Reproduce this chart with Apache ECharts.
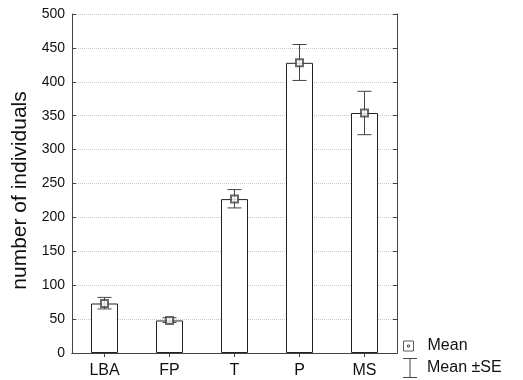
<!DOCTYPE html>
<html>
<head>
<meta charset="utf-8">
<script src="https://cdn.jsdelivr.net/npm/echarts@6/dist/echarts.min.js"></script>
<style>
  html, body { margin: 0; padding: 0; background: #fff; }
  #chart { width: 523px; height: 380px; }
</style>
</head>
<body>
<div id="chart"></div>
<script>
var categories = ['LBA', 'FP', 'T', 'P', 'MS'];
var means = [73, 48, 227, 428, 354];
var seHigh = [82, 52, 241, 455, 386];
var seLow = [65, 45, 214, 402, 322];
var yTicks = { min: 0, max: 500, step: 50 };

var font = "'Liberation Sans', Arial, sans-serif";
var ink = '#222';

var chart = echarts.init(document.getElementById('chart'));

// error bar rows: [category index, upper, lower]
var errData = [];
for (var i = 0; i < categories.length; i++) {
	errData.push([i, seHigh[i], seLow[i]]);
}

var valueAxis = function(right) {
	return {
		type: 'value',
		position: right ? 'right' : 'left',
		min: yTicks.min,
		max: yTicks.max,
		interval: yTicks.step,
		name: right ? '' : 'number of individuals',
		nameLocation: 'middle',
		nameGap: 28,
		nameTextStyle: { fontFamily: font, fontSize: 21, color: '#111', padding: [0, 14, 0, 0] },
		axisLine: { show: true, lineStyle: { color: '#444', width: 1 } },
		axisTick: { show: true, inside: true, length: 4, lineStyle: { color: '#444' } },
		axisLabel: { show: !right, fontFamily: font, fontSize: 14, color: '#111', margin: 7 },
		splitLine: { show: !right, lineStyle: { type: 'dotted', color: '#c8c8c8', width: 1 } }
	};
};

var catAxis = function(top) {
	return {
		type: 'category',
		position: top ? 'top' : 'bottom',
		data: categories,
		boundaryGap: true,
		axisLine: { show: true, lineStyle: { color: '#444', width: 1 } },
		axisTick: { show: true, inside: true, alignWithLabel: true, length: 4, lineStyle: { color: '#444' } },
		axisLabel: { show: !top, fontFamily: font, fontSize: 16, color: '#111', margin: 10 },
		splitLine: { show: false }
	};
};

var option = {
	animation: false,
	grid: { left: 72, right: 126, top: 14, bottom: 27, containLabel: false },
	xAxis: [catAxis(false), catAxis(true)],
	yAxis: [valueAxis(false), valueAxis(true)],
	legend: [{
		data: ['Mean'],
		left: 403,
		top: 338,
		padding: 0,
		itemWidth: 10,
		itemHeight: 10,
		itemGap: 0,
		icon: 'path://M0,0H10V10H0Z M4,4H6V6H4Z',
		itemStyle: { color: '#fff', borderColor: '#333', borderWidth: 1 },
		textStyle: { fontFamily: font, fontSize: 16, color: '#111', padding: [0, 0, 0, 9] }
	}, {
		data: ['Mean ±SE'],
		left: 403,
		top: 358,
		padding: 0,
		itemWidth: 14,
		itemHeight: 20,
		icon: 'path://M0,0H14V1H7.5V19H14V20H0V19H6.5V1H0Z',
		itemStyle: { color: '#444', borderWidth: 0 },
		textStyle: { fontFamily: font, fontSize: 16, color: '#111', padding: [0, 0, 0, 5] }
	}],
	series: [{
		name: 'bars',
		type: 'bar',
		data: means,
		barWidth: 27,
		itemStyle: { color: '#fff', borderColor: ink, borderWidth: 1 },
		z: 2
	}, {
		name: 'Mean ±SE',
		type: 'custom',
		data: errData,
		encode: { x: 0, y: [1, 2] },
		itemStyle: { color: '#444' },
		renderItem: function(params, api) {
			var hi = api.coord([api.value(0), api.value(1)]);
			var lo = api.coord([api.value(0), api.value(2)]);
			var half = 7;
			var st = { stroke: '#444', lineWidth: 1, fill: null };
			return {
				type: 'group',
				children: [
					{ type: 'line', shape: { x1: hi[0], y1: hi[1], x2: lo[0], y2: lo[1] }, style: st },
					{ type: 'line', shape: { x1: hi[0] - half, y1: hi[1], x2: hi[0] + half, y2: hi[1] }, style: st },
					{ type: 'line', shape: { x1: lo[0] - half, y1: lo[1], x2: lo[0] + half, y2: lo[1] }, style: st }
				]
			};
		},
		z: 3
	}, {
		name: 'Mean',
		type: 'scatter',
		data: means,
		symbol: 'emptyRect',
		symbolSize: 7,
		itemStyle: { color: '#444', borderWidth: 1 },
		z: 4
	}]
};

chart.setOption(option);
</script>
</body>
</html>
